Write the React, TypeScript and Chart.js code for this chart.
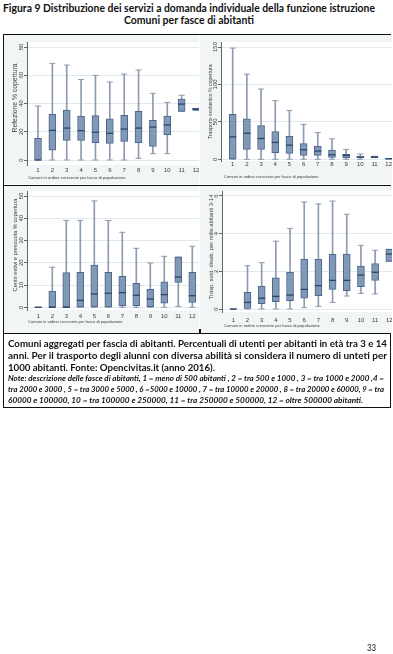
import React, { useEffect, useLayoutEffect, useRef } from "react";
import { Chart, registerables } from "chart.js";
Chart.register(...registerables);

// ---------- DATA ----------
const categories = ["1", "2", "3", "4", "5", "6", "7", "8", "9", "10", "11", "12"];

// Refezione % copertura
const refLow = [0, 0, 0, 0, 0, 0, 0, 1.2, 4.5, 4.5, 34.4, 35.2];
const refQ1 = [0, 7, 13.9, 13.9, 12.3, 11.8, 13.2, 12.3, 9.7, 17.9, 34.4, 35.2];
const refMed = [0, 21, 22.6, 20.8, 19.6, 18.9, 21.9, 22.6, 23.3, 24.8, 39.6, 35.8];
const refQ3 = [15.3, 32.3, 35.4, 31.1, 31.4, 29.2, 31.6, 34.4, 28.1, 31.1, 43.2, 36.5];
const refHigh = [38.2, 68.4, 67.2, 57, 59.9, 55.2, 60.8, 63.7, 47.2, 40.8, 45.8, 36.5];

// Trasporto scolastico % copertura
const trLow = [0, 0, 0, 0, 0, 0, 0, 0, 0, 0, 2.2, 0.5];
const trQ1 = [0, 13.2, 13.2, 8.8, 7.9, 5.3, 5.3, 2.6, 1.8, 1.8, 2.2, 0.5];
const trMed = [30, 34.8, 27.8, 22.5, 18.9, 12.8, 11, 6.2, 5.3, 3, 3, 0.8];
const trQ3 = [60, 54.2, 44.9, 37, 30.8, 21.1, 17.2, 12.3, 6.6, 4, 4, 1];
const trHigh = [148.5, 113.7, 93.8, 78.4, 65.2, 46.7, 35.7, 27.3, 13.2, 7, 4, 1];

// Centri estivi e prescuola % copertura
const ceLow = [0, 0, 0, 0, 0, 0, 0, 0, 0, 0, 0.4, 0];
const ceQ1 = [0, 0, 0, 0, 0, 0, 0.7, 0.7, 0.3, 1.8, 11.2, 2.2];
const ceMed = [0, 0, 0, 3.1, 6, 6.3, 6.6, 5.4, 3.7, 5.7, 13.6, 5.2];
const ceQ3 = [0, 7.3, 15.6, 15.7, 19, 15.7, 13.9, 10.8, 8.1, 11.4, 22.6, 15.7];
const ceHigh = [0, 18, 39, 39, 47.8, 39, 33.7, 26.5, 19.9, 22.9, 22.6, 27.4];

// Trasporto alunni disabili per mille abitanti 3-14
const tdLow = [0, 0, 0, 0, 0, 0.07, 0.14, 0.35, 0.69, 0.83, 0.8, 2.53];
const tdQ1 = [0, 0, 0.28, 0.39, 0.44, 0.57, 0.71, 1.04, 0.97, 1.19, 1.52, 2.53];
const tdMed = [0, 0.35, 0.57, 0.67, 0.74, 1.04, 1.24, 1.52, 1.52, 1.8, 1.95, 2.92];
const tdQ3 = [0, 0.88, 1.22, 1.65, 1.95, 2.65, 2.65, 2.9, 2.92, 2.28, 2.41, 3.17];
const tdHigh = [0, 2.3, 2.46, 3.6, 4.28, 5.68, 5.58, 5.73, 5.03, 3.38, 3.12, 3.17];

const refTicks = [0, 20, 40, 60, 80];
const trTicks = [0, 50, 100, 150];
const ceTicks = [0, 10, 20, 30, 40, 50];
const tdTicks = [0, 2, 4, 6];

const xAxisTitle = "Comuni in ordine crescente per fasce di popolazione";

const titleLine1 = "Figura 9 Distribuzione dei servizi a domanda individuale della funzione istruzione";
const titleLine2 = "Comuni per fasce di abitanti";
const captionLines = [
  "Comuni aggregati per fascia di abitanti. Percentuali di utenti per abitanti in età tra 3 e 14",
  "anni. Per il trasporto degli alunni con diversa abilità si considera il numero di unteti per",
  "1000 abitanti. Fonte: Opencivitas.it (anno 2016).",
];
const noteLines = [
  "Note: descrizione delle fasce di abitanti, 1 = meno di 500 abitanti , 2 = tra 500 e 1000 , 3 = tra 1000 e 2000 ,4 =",
  "tra 2000 e 3000 , 5 = tra 3000 e 5000 , 6 =5000 e 10000 , 7 = tra 10000 e 20000 , 8 = tra 20000 e 60000, 9 = tra",
  "60000 e 100000, 10 = tra 100000 e 250000, 11 = tra 250000 e 500000, 12 = oltre 500000 abitanti.",
];
const pageNumber = "33";

// ---------- LAYOUT ----------
type Panel = {
  left: number; top: number; width: number; height: number;
  area: { l: number; t: number; r: number; b: number };
  c1: number; c12: number; py0: number; pyTop: number; topVal: number;
  yTicks: number[]; yTitle: string; yTitleW: number; yTitleX: number; yTitleY: number;
  labelY: number; xTitleX: number; xTitleY: number; xTitleW: number;
  low: number[]; q1: number[]; med: number[]; q3: number[]; high: number[];
};

const panels: Panel[] = [
  {
    left: 4, top: 35, width: 195, height: 149,
    area: { l: 27, t: 42, r: 199, b: 165 },
    c1: 38, c12: 196, py0: 160, pyTop: 47, topVal: 80,
    yTicks: refTicks, yTitle: "Refezione % copertura", yTitleW: 69, yTitleX: 15, yTitleY: 98,
    labelY: 170.3, xTitleX: 28, xTitleY: 177.7, xTitleW: 98,
    low: refLow, q1: refQ1, med: refMed, q3: refQ3, high: refHigh,
  },
  {
    left: 200, top: 35, width: 200, height: 149,
    area: { l: 221, t: 42, r: 400, b: 161 },
    c1: 232.7, c12: 388.7, py0: 159.3, pyTop: 47, topVal: 150,
    yTicks: trTicks, yTitle: "Trasporto scolastico % copertura", yTitleW: 75, yTitleX: 211, yTitleY: 101.7,
    labelY: 164.5, xTitleX: 224, xTitleY: 176.7, xTitleW: 95,
    low: trLow, q1: trQ1, med: trMed, q3: trQ3, high: trHigh,
  },
  {
    left: 4, top: 186, width: 195, height: 147,
    area: { l: 27, t: 191, r: 199, b: 310 },
    c1: 38.3, c12: 192.3, py0: 307.3, pyTop: 196, topVal: 50,
    yTicks: ceTicks, yTitle: "Centri estivi e prescuola % copertura", yTitleW: 93, yTitleX: 15, yTitleY: 245,
    labelY: 316, xTitleX: 28, xTitleY: 322, xTitleW: 95,
    low: ceLow, q1: ceQ1, med: ceMed, q3: ceQ3, high: ceHigh,
  },
  {
    left: 200, top: 186, width: 200, height: 147,
    area: { l: 222, t: 191, r: 400, b: 312 },
    c1: 233.3, c12: 389.3, py0: 309, pyTop: 196, topVal: 6,
    yTicks: tdTicks, yTitle: "Trasp. sost. disab. per mille abitanti 3-14", yTitleW: 105, yTitleX: 211, yTitleY: 247,
    labelY: 320, xTitleX: 224, xTitleY: 325.7, xTitleW: 96,
    low: tdLow, q1: tdQ1, med: tdMed, q3: tdQ3, high: tdHigh,
  },
];

const BOX_FILL = "#8198b6";
const BOX_EDGE = "#4c678b";
const MEDIAN = "#2c466b";
const WHISKER = "#8d9bad";
const TEXT = "#3c3c3c";
const PANEL_BG = "#f1f5f6";
const FONT = "'Liberation Sans', Arial, sans-serif";

function fitFont(ctx: CanvasRenderingContext2D, text: string, targetW: number, weight = "normal") {
  ctx.font = `${weight} 10px ${FONT}`;
  const w = ctx.measureText(text).width;
  const size = (10 * targetW) / w;
  ctx.font = `${weight} ${size}px ${FONT}`;
}

function BoxPanel({ p }: { p: Panel }) {
  const ref = useRef<HTMLCanvasElement>(null);
  useEffect(() => {
    const canvas = ref.current;
    if (!canvas) return;
    const xs = categories.map((c) => Number(c));
    const padTop = p.area.t - p.top;
    const padRight = p.left + p.width - p.area.r;
    const yW = p.area.l - p.left;
    const xH = p.top + p.height - p.area.b;

    // axis limits that place category 1 / 12 and the y ticks at the pixels
    const limits = (ca: { left: number; right: number; top: number; bottom: number }) => {
      const l = ca.left + p.left, r = ca.right + p.left, t = ca.top + p.top, b = ca.bottom + p.top;
      const ux = (p.c12 - p.c1) / 11;
      const uy = (p.py0 - p.pyTop) / p.topVal;
      return {
        xmin: 1 - (p.c1 - l) / ux,
        xmax: 12 + (r - p.c12) / ux,
        ymin: -(b - p.py0) / uy,
        ymax: p.topVal + (p.pyTop - t) / uy,
      };
    };
    const lim0 = limits({ left: p.area.l - p.left, right: p.area.r - p.left, top: p.area.t - p.top, bottom: p.area.b - p.top });

    const plugin = {
      id: "panelDecor",
      beforeDraw(chart: any) {
        const { ctx, chartArea } = chart;
        ctx.save();
        ctx.fillStyle = "#ffffff";
        ctx.fillRect(chartArea.left, chartArea.top, chartArea.right - chartArea.left, chartArea.bottom - chartArea.top);
        ctx.restore();
      },
      afterDraw(chart: any) {
        const { ctx, chartArea } = chart;
        const xScale = chart.scales.x;
        const yScale = chart.scales.y;
        ctx.save();
        ctx.fillStyle = TEXT;
        ctx.font = `6px ${FONT}`;
        ctx.textAlign = "center";
        ctx.textBaseline = "middle";
        categories.forEach((c, i) => {
          ctx.fillText(c, xScale.getPixelForValue(xs[i]), p.labelY - p.top);
        });
        fitFont(ctx, xAxisTitle, p.xTitleW);
        ctx.textAlign = "left";
        ctx.fillText(xAxisTitle, p.xTitleX - p.left, p.xTitleY - p.top);
        ctx.font = `6px ${FONT}`;
        ctx.textAlign = "center";
        ctx.textBaseline = "middle";
        p.yTicks.forEach((v) => {
          const py = yScale.getPixelForValue(v);
          ctx.save();
          ctx.translate(chartArea.left - 5.5, py);
          ctx.rotate(-Math.PI / 2);
          ctx.fillText(String(v), 0, 0);
          ctx.restore();
        });
        fitFont(ctx, p.yTitle, p.yTitleW);
        ctx.save();
        ctx.translate(p.yTitleX - p.left, p.yTitleY - p.top);
        ctx.rotate(-Math.PI / 2);
        ctx.textAlign = "center";
        ctx.textBaseline = "middle";
        ctx.fillText(p.yTitle, 0, 0);
        ctx.restore();
        ctx.restore();
      },
    };

    const chart = new Chart(canvas, {
      type: "bar",
      data: {
        datasets: [
          {
            type: "bar",
            label: "whisker",
            data: xs.map((x, i) => ({ x, y: [p.low[i], p.high[i]] })) as any,
            backgroundColor: WHISKER,
            borderWidth: 0,
            barThickness: 1,
            grouped: false,
            order: 3,
          } as any,
          {
            type: "line",
            label: "caps",
            data: [
              ...xs.map((x, i) => ({ x, y: p.high[i] })),
              ...xs.map((x, i) => ({ x, y: p.low[i] })),
            ],
            showLine: false,
            pointStyle: "line",
            pointRadius: 3,
            pointBorderWidth: 1,
            pointBorderColor: WHISKER,
            borderColor: WHISKER,
            order: 2,
          } as any,
          {
            type: "bar",
            label: "box",
            data: xs.map((x, i) => ({ x, y: [p.q1[i], p.q3[i]] })) as any,
            backgroundColor: BOX_FILL,
            borderColor: BOX_EDGE,
            borderWidth: 1,
            borderSkipped: false,
            barThickness: 7,
            grouped: false,
            order: 1,
          } as any,
          {
            type: "line",
            label: "median",
            data: xs.map((x, i) => ({ x, y: p.med[i] })),
            showLine: false,
            pointStyle: "line",
            pointRadius: 3.5,
            pointBorderWidth: 1.3,
            pointBorderColor: MEDIAN,
            borderColor: MEDIAN,
            order: 0,
          } as any,
        ],
      },
      options: {
        animation: false,
        responsive: false,
        events: [],
        layout: { autoPadding: false, padding: { top: padTop, right: padRight, left: 0, bottom: 0 } },
        plugins: { legend: { display: false }, tooltip: { enabled: false } },
        scales: {
          x: {
            type: "linear",
            offset: false,
            min: lim0.xmin,
            max: lim0.xmax,
            grid: { display: false, offset: false },
            border: { display: false },
            ticks: { display: false },
            afterBuildTicks: (s: any) => { s.ticks = xs.map((v) => ({ value: v })); },
            afterFit: (s: any) => { s.height = xH; },
          },
          y: {
            type: "linear",
            min: lim0.ymin,
            max: lim0.ymax,
            grid: { color: "#e2e8ec", lineWidth: 1, drawTicks: true, tickLength: 3, tickColor: "#666" },
            border: { display: true, color: "#666", width: 1 },
            ticks: { display: false },
            afterBuildTicks: (s: any) => { s.ticks = p.yTicks.map((v) => ({ value: v })); },
            afterFit: (s: any) => { s.width = yW; },
          },
        },
      } as any,
      plugins: [plugin],
    });
    // safety: if the layout moved the plot area, recompute the limits from the real area
    const ca = chart.chartArea;
    const lim = limits(ca);
    if (Math.abs(lim.xmin - lim0.xmin) > 1e-3 || Math.abs(lim.xmax - lim0.xmax) > 1e-3 ||
        Math.abs(lim.ymin - lim0.ymin) > 1e-3 || Math.abs(lim.ymax - lim0.ymax) > 1e-3) {
      const o: any = chart.options.scales;
      o.x.min = lim.xmin; o.x.max = lim.xmax; o.y.min = lim.ymin; o.y.max = lim.ymax;
      chart.update();
    }
    return () => chart.destroy();
  }, [p]);
  return (
    <div style={{ position: "absolute", left: p.left, top: p.top, width: p.width, height: p.height, background: PANEL_BG }}>
      <canvas ref={ref} width={p.width} height={p.height} style={{ display: "block" }} />
    </div>
  );
}

function FitLine({ text, x, yc, w, size, weight = 700, italic = false, family = "Lato, 'Open Sans', sans-serif" }: any) {
  const ref = useRef<HTMLSpanElement>(null);
  const measure = () => {
    const el = ref.current;
    if (!el) return;
    el.style.transform = "none";
    const nat = el.getBoundingClientRect().width;
    if (nat > 0) el.style.transform = `scaleX(${w / nat})`;
  };
  useLayoutEffect(() => {
    measure();
    if ((document as any).fonts && (document as any).fonts.ready) {
      (document as any).fonts.ready.then(measure);
    }
  }, [text, w]);
  return (
    <span
      ref={ref}
      style={{
        position: "absolute",
        left: x,
        top: yc - size / 2,
        whiteSpace: "nowrap",
        transformOrigin: "0 0",
        fontSize: size,
        lineHeight: `${size}px`,
        fontWeight: weight,
        fontStyle: italic ? "italic" : "normal",
        fontFamily: family,
        color: "#111",
      }}
    >
      {text}
    </span>
  );
}

export default function App() {
  return (
    <div style={{ position: "fixed", left: 0, top: 0, width: 393, height: 654, background: "#fff", overflow: "hidden" }}>
      <FitLine text={titleLine1} x={3} yc={8.5} w={372} size={10.5} />
      <FitLine text={titleLine2} x={124} yc={20.5} w={130} size={10.5} />

      <div style={{ position: "absolute", left: 0, top: 0, width: 392, height: 334, overflow: "hidden" }}>
        {panels.map((p, i) => (
          <BoxPanel key={i} p={p} />
        ))}
      </div>

      <div style={{ position: "absolute", left: 3, top: 34, width: 388, height: 1, background: "#111" }} />
      <div style={{ position: "absolute", left: 3, top: 34, width: 1, height: 300, background: "#111" }} />
      <div style={{ position: "absolute", left: 3, top: 184.5, width: 388, height: 1.5, background: "#111" }} />
      <div style={{ position: "absolute", left: 199, top: 329, width: 1.5, height: 5, background: "#111" }} />

      <div style={{ position: "absolute", left: 3, top: 333, width: 388, height: 75, border: "1.5px solid #111", boxSizing: "border-box" }} />
      <FitLine text={captionLines[0]} x={8} yc={342.5} w={379} size={10} />
      <FitLine text={captionLines[1]} x={8} yc={354.5} w={379} size={10} />
      <FitLine text={captionLines[2]} x={8} yc={366.5} w={207} size={10} />
      <FitLine text={noteLines[0]} x={8} yc={378.5} w={376} size={7.5} italic />
      <FitLine text={noteLines[1]} x={8} yc={389.5} w={376} size={7.5} italic />
      <FitLine text={noteLines[2]} x={8} yc={400.5} w={355} size={7.5} italic />

      <FitLine text={pageNumber} x={367} yc={647} w={9} size={9} weight={400} />
    </div>
  );
}
